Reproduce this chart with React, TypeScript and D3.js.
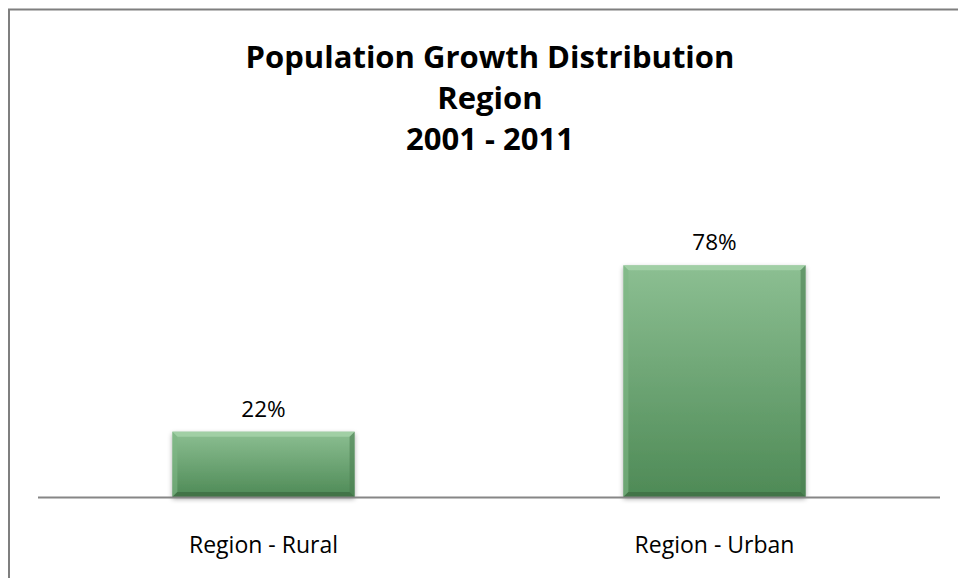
import React from "react";
import * as d3 from "d3";

const categories = ["Region - Rural", "Region - Urban"];
const values = [22, 78];
const valueLabels = ["22%", "78%"];
const titleLines = ["Population Growth Distribution", "Region", "2001 - 2011"];

const W = 958;
const H = 578;

export default function App() {
  const x = d3
    .scaleBand<string>()
    .domain(categories)
    .range([38, 940])
    .paddingInner(0.596)
    .paddingOuter(0.298);
  const y = d3.scaleLinear().domain([0, 100]).range([497, 200]);
  const bw = x.bandwidth();
  const bev = 5;
  const font = "'Open Sans', sans-serif";

  return (
    <svg
      width={W}
      height={H}
      style={{ position: "absolute", left: 0, top: 0, background: "#fff" }}
    >
      <defs>
        <linearGradient id="barGrad" x1="0" y1="0" x2="0" y2="1">
          <stop offset="0%" stopColor="#8cbf92" />
          <stop offset="100%" stopColor="#4e8a56" />
        </linearGradient>
        <filter id="shadow" x="-10%" y="-10%" width="120%" height="130%">
          <feGaussianBlur in="SourceAlpha" stdDeviation="2.5" />
          <feOffset dx="0" dy="2" result="b" />
          <feComponentTransfer>
            <feFuncA type="linear" slope="0.35" />
          </feComponentTransfer>
          <feMerge>
            <feMergeNode />
            <feMergeNode in="SourceGraphic" />
          </feMerge>
        </filter>
      </defs>
      <rect x={9} y={9.5} width={W + 20} height={H + 20} fill="#fff" stroke="#7f7f7f" strokeWidth={2} />

      {titleLines.map((t, i) => (
        <text
          key={t}
          x={490}
          y={68 + i * 41}
          textAnchor="middle"
          fontFamily={font}
          fontWeight="bold"
          fontSize={31}
          fill="#000"
        >
          {t}
        </text>
      ))}

      {categories.map((c, i) => {
        const x0 = x(c)!;
        const y0 = y(values[i]);
        const y1 = y(0);
        const x1 = x0 + bw;
        return (
          <g key={c}>
            <g filter="url(#shadow)">
              <rect x={x0} y={y0} width={bw} height={y1 - y0} fill="url(#barGrad)" />
            </g>
            <polygon
              points={`${x0},${y0} ${x1},${y0} ${x1 - bev},${y0 + bev} ${x0 + bev},${y0 + bev}`}
              fill="#a6d3aa"
              opacity={0.8}
            />
            <polygon
              points={`${x0},${y0} ${x0 + bev},${y0 + bev} ${x0 + bev},${y1 - bev} ${x0},${y1}`}
              fill="#7fb886"
              opacity={0.6}
            />
            <polygon
              points={`${x1},${y0} ${x1},${y1} ${x1 - bev},${y1 - bev} ${x1 - bev},${y0 + bev}`}
              fill="#4b7e51"
              opacity={0.6}
            />
            <polygon
              points={`${x0},${y1} ${x0 + bev},${y1 - bev} ${x1 - bev},${y1 - bev} ${x1},${y1}`}
              fill="#3e6e44"
              opacity={0.8}
            />
            <text
              x={x0 + bw / 2}
              y={y0 - 15}
              textAnchor="middle"
              fontFamily={font}
              fontSize={22.5}
              fill="#000"
            >
              {valueLabels[i]}
            </text>
            <text
              x={x0 + bw / 2}
              y={553}
              textAnchor="middle"
              fontFamily={font}
              fontSize={23}
              fill="#000"
            >
              {c}
            </text>
          </g>
        );
      })}

      <line x1={38} x2={940} y1={y(0) + 0.5} y2={y(0) + 0.5} stroke="#868686" strokeWidth={2} />
    </svg>
  );
}
